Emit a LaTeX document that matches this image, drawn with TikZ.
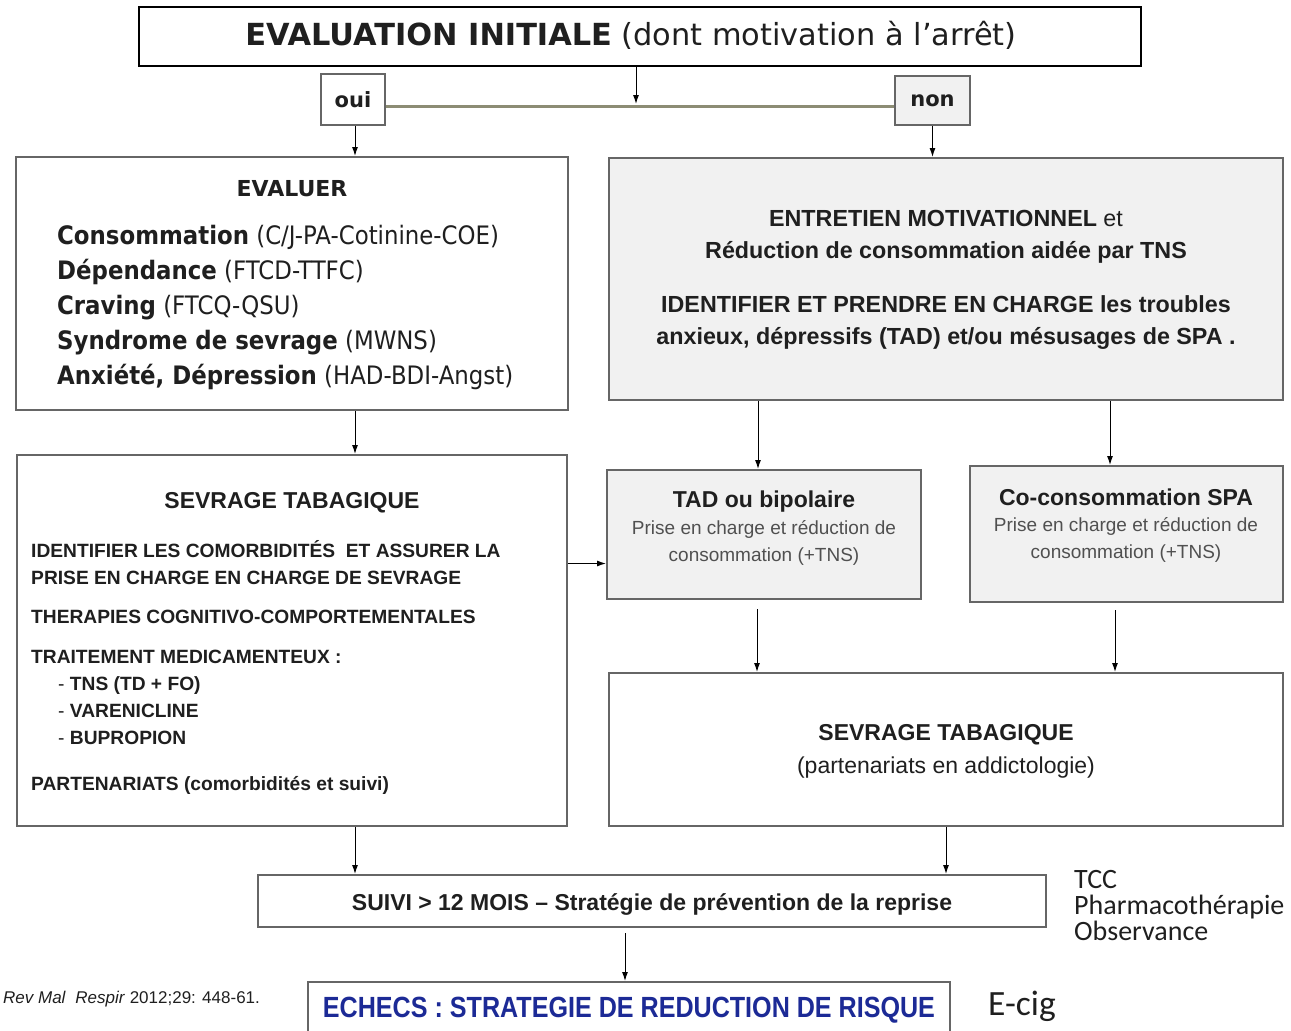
\documentclass[tikz,border=0pt]{standalone}
\usepackage{fontspec}
\usetikzlibrary{positioning,arrows.meta,calc}
\tikzset{>={Latex[length=9pt,width=6pt]}}
\newfontfamily\verd{DejaVu Sans}
\newfontfamily\verdn[FakeStretch=0.9]{DejaVu Sans}
\newfontfamily\arial{Liberation Sans}
\newfontfamily\arialn[FakeStretch=0.86]{Liberation Sans}
\newfontfamily\calib{Carlito}
\newcommand\fsz[2]{\fontsize{#1}{#2}\selectfont}
\definecolor{boxline}{HTML}{666666}
\definecolor{boxfill}{HTML}{F1F1F1}
\definecolor{linkolive}{HTML}{8C8C74}
\definecolor{echecblue}{HTML}{1C2A96}
\definecolor{txtgrey}{HTML}{505050}

\begin{document}
\begin{tikzpicture}[x=1pt,y=-1pt,
    bx/.style={draw=boxline, line width=2pt, fill=white, inner sep=0pt},
    gbx/.style={bx, fill=boxfill},
    txt/.style={inner sep=0pt, text=black!88},
    link/.style={->, line width=1pt}]
    \useasboundingbox (0,0) rectangle (1291,1031);
    % boxes
    \node[bx, draw=black, minimum width=1002pt, minimum height=59pt] (init) at (640,36.5) {};
    \node[bx, minimum width=64pt, minimum height=51pt] (oui) at (353,99.5) {};
    \node[gbx, minimum width=75pt, minimum height=49pt] (non) at (932.5,100.5) {};
    \node[bx, minimum width=552pt, minimum height=253pt] (evaluer) at (292,283.5) {};
    \node[gbx, minimum width=674pt, minimum height=242pt] (entretien) at (946,279) {};
    \node[bx, minimum width=550pt, minimum height=371pt] (sevrL) at (292,640.5) {};
    \node[gbx, minimum width=314pt, minimum height=129pt] (tad) at (764,534.5) {};
    \node[gbx, minimum width=313pt, minimum height=136pt] (cocons) at (1126.5,534) {};
    \node[bx, minimum width=674pt, minimum height=153pt] (sevrR) at (946,749.5) {};
    \node[bx, minimum width=788pt, minimum height=52pt] (suivi) at (652,901) {};
    \node[bx, minimum width=642pt, minimum height=64pt] (echecs) at (629,1014) {};

    % texts
    \node[txt, font=\verd\fsz{30.4}{34}] (initT) at (631,35) {\textbf{EVALUATION INITIALE} (dont motivation à l’arrêt)};
    \node[txt, font=\verd\fsz{21}{24}\bfseries] (ouiT) at (oui) {oui};
    \node[txt, font=\verd\fsz{21}{24}\bfseries] (nonT) at (non) {non};
    \node[txt, font=\verd\fsz{22}{26}\bfseries] (evT) at (292,189) {EVALUER};
    \node[txt, anchor=west, align=left, font=\verdn\fsz{25.4}{35}] (evL) at (57,307) {%
        \textbf{Consommation} (C/J-PA-Cotinine-COE)\\
        \textbf{Dépendance} (FTCD-TTFC)\\
        \textbf{Craving} (FTCQ-QSU)\\
        \textbf{Syndrome de sevrage} (MWNS)\\
        \textbf{Anxiété, Dépression} (HAD-BDI-Angst)};
    \node[txt, align=center, font=\arial\fsz{23.3}{32}\bfseries] (entT) at (946,280) {%
        ENTRETIEN MOTIVATIONNEL {\mdseries et}\\
        Réduction de consommation aidée par TNS\\[22pt]
        IDENTIFIER ET PRENDRE EN CHARGE les troubles\\
        anxieux, dépressifs (TAD) et/ou mésusages de SPA .};
    \node[txt, font=\arial\fsz{23}{28}\bfseries] (tadT) at (764,502) {TAD ou bipolaire};
    \node[txt, align=center, text=txtgrey, font=\arial\fsz{19}{27}] (tadB) at (764,543) {%
        Prise en charge et réduction de\\ consommation (+TNS)};
    \node[txt, font=\arial\fsz{23}{28}\bfseries] (cocT) at (1126,497) {Co-consommation SPA};
    \node[txt, align=center, text=txtgrey, font=\arial\fsz{19}{27}] (cocB) at (1126,540) {%
        Prise en charge et réduction de\\ consommation (+TNS)};
    \node[txt, font=\arial\fsz{23}{28}\bfseries] (slT) at (292,503) {SEVRAGE TABAGIQUE};
    \node[txt, anchor=west, align=left, font=\arial\fsz{19.2}{27}\bfseries] (slB) at (31,667) {%
        IDENTIFIER LES COMORBIDITÉS~ ET ASSURER LA\\
        PRISE EN CHARGE EN CHARGE DE SEVRAGE\\[12pt]
        THERAPIES COGNITIVO-COMPORTEMENTALES\\[13pt]
        TRAITEMENT MEDICAMENTEUX :\\
        \hspace*{27pt}{\mdseries -} TNS (TD + FO)\\
        \hspace*{27pt}{\mdseries -} VARENICLINE\\
        \hspace*{27pt}{\mdseries -} BUPROPION\\[19pt]
        PARTENARIATS (comorbidités et suivi)};
    \node[txt, font=\arial\fsz{23}{28}\bfseries] (srT) at (946,735) {SEVRAGE TABAGIQUE};
    \node[txt, font=\arial\fsz{23}{28}] (srB) at (946,768) {(partenariats en addictologie)};
    \node[txt, font=\arial\fsz{23}{28}\bfseries] (suT) at ([yshift=-3pt]suivi.center) {SUIVI > 12 MOIS – Stratégie de prévention de la reprise};
    \node[txt, text=echecblue, font=\arialn\fsz{29.2}{32}\bfseries] (ecT) at (629,1010) {ECHECS : STRATEGIE DE REDUCTION DE RISQUE};
    \node[txt, anchor=west, align=left, font=\calib\fsz{28}{26}] (notes) at (1074,906) {TCC\\ Pharmacothérapie\\ Observance};
    \node[txt, anchor=west, font=\calib\fsz{35.5}{38}] (ecig) at (988,1006) {E-cig};
    \node[txt, anchor=west, font=\arial\fsz{17}{20}] (cite) at (3,999) {\textit{Rev Mal}~~\textit{Respir} 2012;29: 448-61.};

    % connectors
    \coordinate (j) at (636,106);
    \draw[linkolive, line width=3pt] (oui.east |- j) -- (non.west |- j);
    \draw[link] (init.south -| j) -- ([yshift=2pt]j);
    \draw[link] ([xshift=2pt]oui.south) coordinate (o1) -- (o1 |- evaluer.north);
    \draw[link] (non.south) -- (non.south |- entretien.north);
    \draw[link] ([xshift=63pt]evaluer.south) coordinate (v1) -- (v1 |- sevrL.north);
    \draw[link] ([yshift=77pt]sevrL.east) coordinate (s1) -- (s1 -| tad.west);
    \draw[link] ([xshift=-188pt]entretien.south) coordinate (e1) -- (e1 |- tad.north);
    \draw[link] ([xshift=164pt]entretien.south) coordinate (e2) -- (e2 |- cocons.north);
    \draw[link] ([xshift=-7pt,yshift=-9pt]tad.south) coordinate (t1) -- (t1 |- sevrR.north);
    \draw[link] ([xshift=-11.5pt,yshift=-7pt]cocons.south) coordinate (c1) -- (c1 |- sevrR.north);
    \draw[link] ([xshift=63pt]sevrL.south) coordinate (l1) -- (l1 |- suivi.north);
    \draw[link] (sevrR.south) -- (sevrR.south |- suivi.north);
    \draw[link] ([xshift=-27pt,yshift=-5pt]suivi.south) coordinate (u1) -- (u1 |- echecs.north);
\end{tikzpicture}
\end{document}
